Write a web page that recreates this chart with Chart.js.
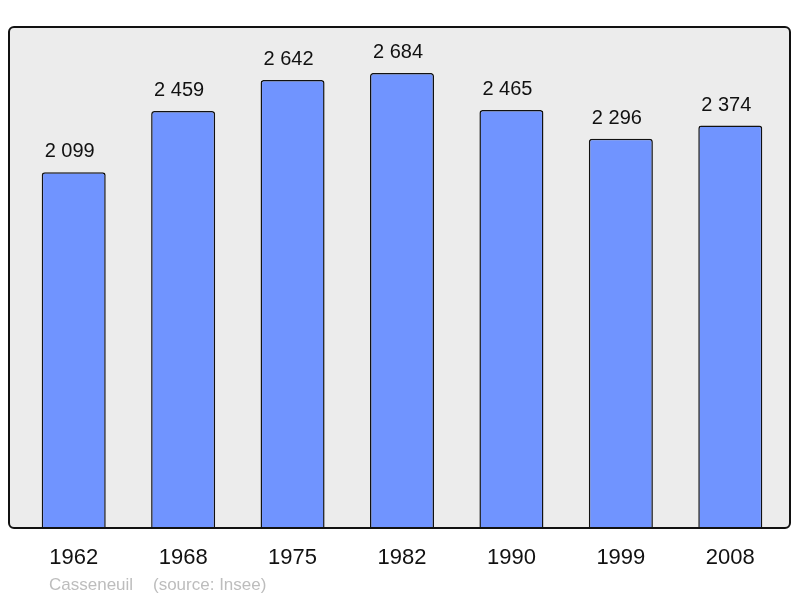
<!DOCTYPE html>
<html>
<head>
<meta charset="utf-8">
<script src="https://cdn.jsdelivr.net/npm/chart.js@4/dist/chart.umd.min.js"></script>
<style>
html,body{margin:0;padding:0;background:#fff;}
#wrap{width:800px;height:598px;position:relative;}
</style>
</head>
<body>
<div id="wrap"><canvas id="c" width="800" height="598"></canvas></div>
<script>
const categories = ["1962","1968","1975","1982","1990","1999","2008"];
const population = [2099, 2459, 2642, 2684, 2465, 2296, 2374];
const yMax = 2955;
const placeName = "Casseneuil";
const sourceText = "(source: Insee)";

function fmt(v){ return String(v).replace(/\B(?=(\d{3})+(?!\d))/g, " "); }

function roundRect(ctx, x, y, w, h, r){
  ctx.beginPath();
  ctx.moveTo(x+r, y);
  ctx.lineTo(x+w-r, y);
  ctx.arcTo(x+w, y, x+w, y+r, r);
  ctx.lineTo(x+w, y+h-r);
  ctx.arcTo(x+w, y+h, x+w-r, y+h, r);
  ctx.lineTo(x+r, y+h);
  ctx.arcTo(x, y+h, x, y+h-r, r);
  ctx.lineTo(x, y+r);
  ctx.arcTo(x, y, x+r, y, r);
  ctx.closePath();
}

const frame = {
  id: 'frame',
  beforeDatasetsDraw(chart){
    const ctx = chart.ctx, a = chart.chartArea;
    ctx.save();
    roundRect(ctx, 9, a.top, 781, a.bottom - a.top, 5);
    ctx.fillStyle = '#ececec';
    ctx.fill();
    ctx.restore();
  },
  afterDatasetsDraw(chart){
    const ctx = chart.ctx, a = chart.chartArea;
    ctx.save();
    roundRect(ctx, 9, a.top, 781, a.bottom - a.top, 5);
    ctx.lineWidth = 2;
    ctx.strokeStyle = '#111';
    ctx.stroke();
    const meta = chart.getDatasetMeta(0);
    ctx.font = '20px "Liberation Sans", Arial, sans-serif';
    ctx.fillStyle = '#111';
    ctx.textAlign = 'center';
    ctx.textBaseline = 'alphabetic';
    meta.data.forEach((bar, i) => {
      ctx.fillText(fmt(population[i]), bar.x - 4, bar.y - 15);
    });
    ctx.font = '17px "Liberation Sans", Arial, sans-serif';
    ctx.fillStyle = '#bdbdbd';
    ctx.textAlign = 'left';
    ctx.fillText(placeName, 49, 590);
    ctx.fillText(sourceText, 153, 590);
    ctx.restore();
  }
};

new Chart(document.getElementById('c'), {
  type: 'bar',
  data: {
    labels: categories,
    datasets: [{
      data: population,
      backgroundColor: '#7094ff',
      borderColor: '#111',
      borderWidth: 1.5,
      borderRadius: 3,
      borderSkipped: 'start',
      barPercentage: 0.585,
      categoryPercentage: 1
    }]
  },
  options: {
    responsive: false,
    animation: false,
    layout: { padding: { top: 27, left: 19, right: 15, bottom: 0 } },
    plugins: { legend: { display: false }, tooltip: { enabled: false } },
    scales: {
      x: {
        grid: { display: false, drawTicks: false },
        border: { display: false },
        ticks: { color: '#111', font: { size: 22, family: '"Liberation Sans", Arial, sans-serif' }, padding: 17 },
        afterFit(scale){ scale.height = 70; }
      },
      y: { display: false, min: 0, max: yMax }
    }
  },
  plugins: [frame]
});
</script>
</body>
</html>
